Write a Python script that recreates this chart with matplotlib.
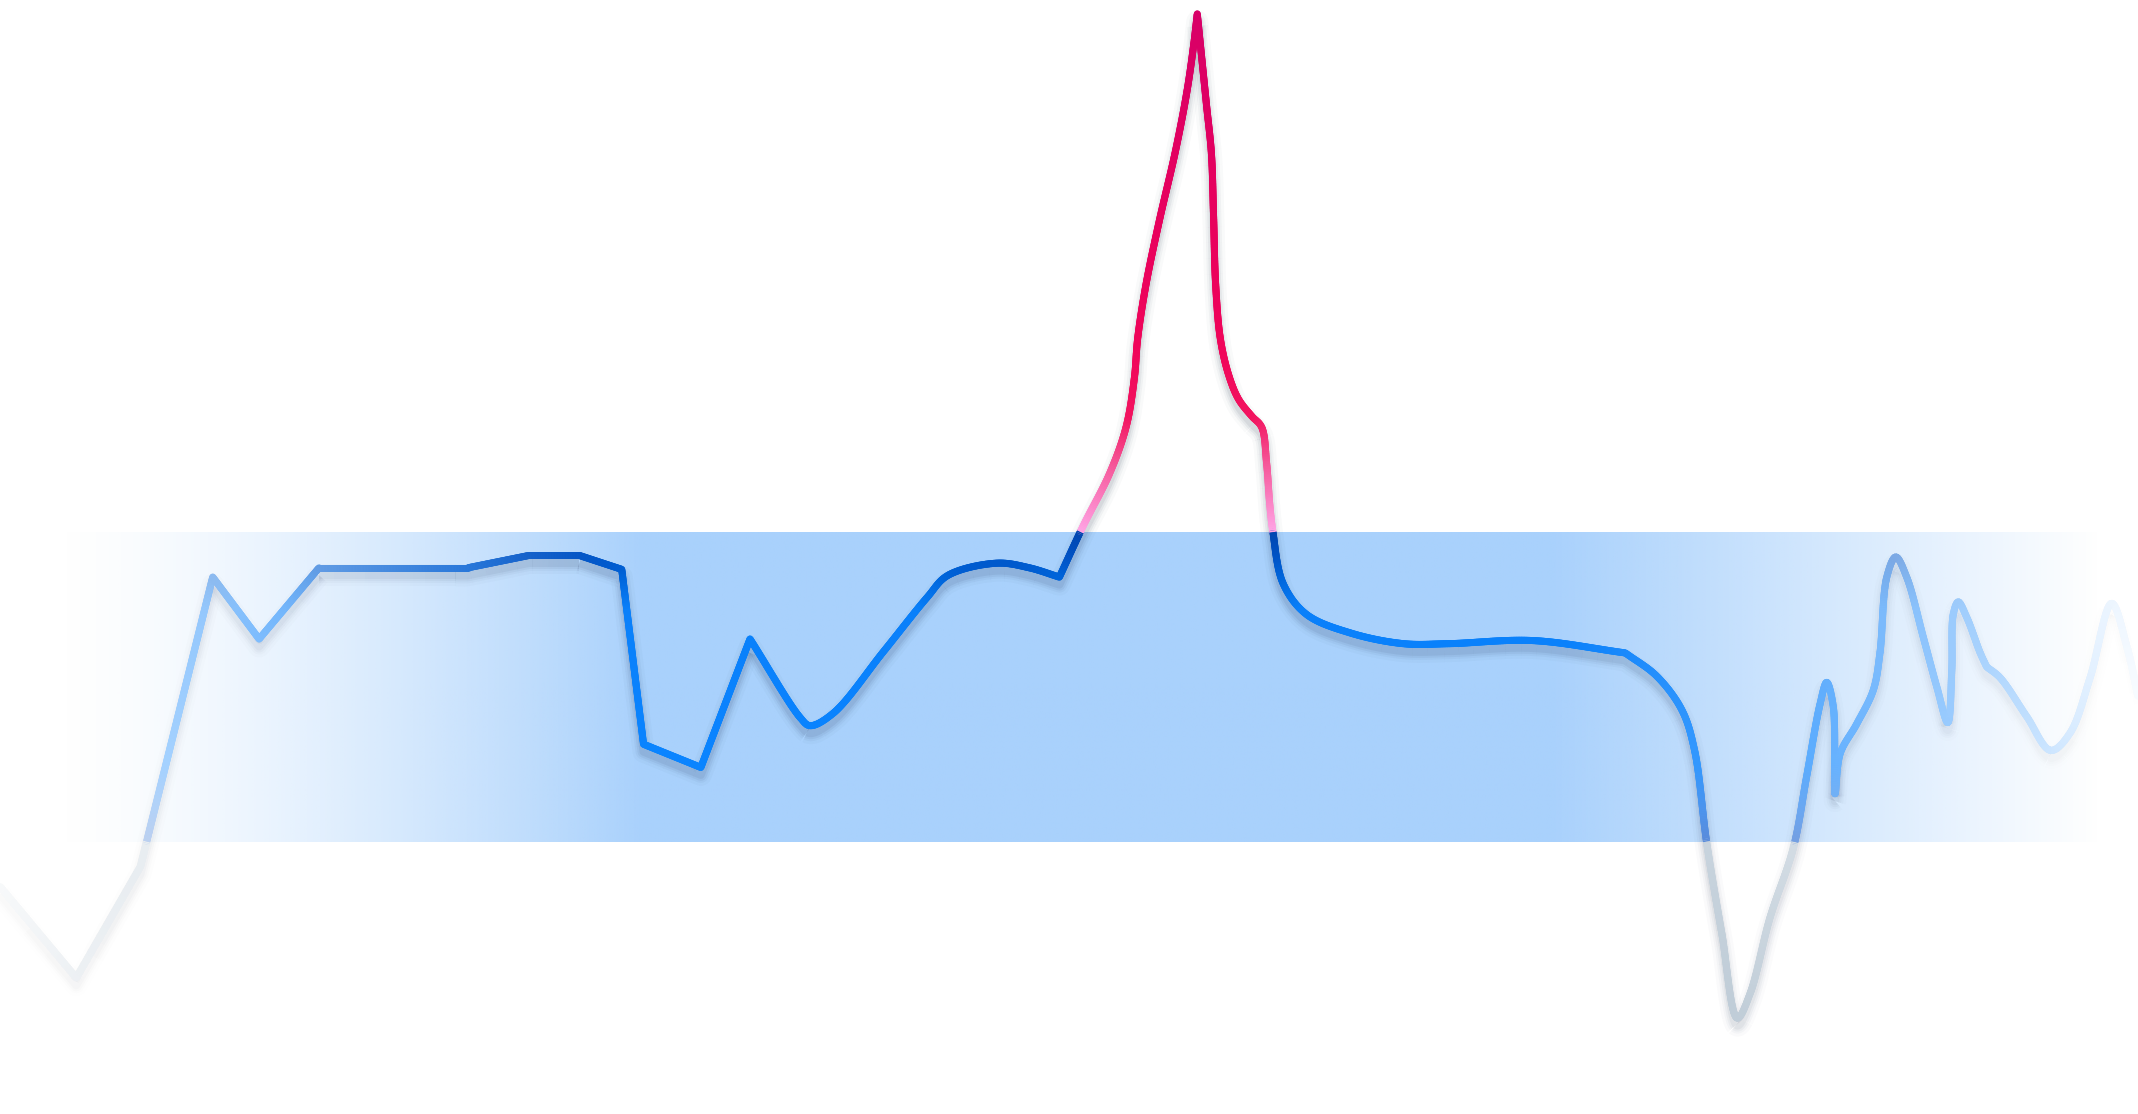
import numpy as np
import matplotlib
matplotlib.use("Agg")
import matplotlib.pyplot as plt
import matplotlib.transforms as mtransforms
from matplotlib.collections import LineCollection
from matplotlib.colors import to_rgb

# readings (time 0-100, value)
t = [0.0, 3.57, 6.57, 9.95, 12.12, 14.92, 21.88, 24.74, 27.10, 29.08,
     30.10, 32.78, 35.08, 37.44, 37.88, 38.97, 41.33, 43.37, 44.32, 46.62,
     48.15, 49.55, 50.66, 51.90, 52.67, 53.06, 53.21, 53.60, 54.22, 54.99,
     55.53, 55.84, 56.00, 56.22, 56.44, 56.66, 56.76, 56.86, 57.08, 57.46,
     57.93, 58.55, 59.01, 59.24, 59.39, 59.54, 60.01, 61.10, 63.14, 65.63,
     67.79, 71.68, 76.02, 77.49, 78.67, 79.26, 79.83, 80.53, 81.26,
     81.86, 82.79, 83.88, 84.50, 85.13, 85.44, 85.75, 85.83, 86.07, 86.84,
     87.62, 87.93, 88.25, 88.67, 89.18, 89.96, 90.59, 91.10, 91.29, 91.36,
     91.59, 91.99, 92.62, 92.92, 93.55, 94.79, 95.92, 96.81, 97.76, 98.77,
     99.48, 100.0]
v = [37.1, 31.2, 38.4, 57.1, 53.1, 57.7, 57.7, 58.5, 58.5, 57.6,
     46.3, 44.8, 53.1, 48.0, 47.5, 48.3, 52.3, 55.8, 57.2, 58.0,
     57.7, 57.1, 60.4, 63.8, 66.8, 70.0, 72.5, 76.0, 80.1, 84.7,
     88.6, 91.6, 93.5, 90.5, 87.5, 84.5, 80.5, 76.0, 72.5, 70.2,
     68.6, 67.5, 66.8, 64.5, 61.8, 60.0, 56.7, 54.7, 53.5, 52.8,
     52.8, 53.0, 52.2, 50.7, 48.5, 45.9, 39.9, 34.1, 28.6,
     30.2, 35.1, 39.6, 44.2, 48.9, 50.3, 48.7, 43.1, 45.7, 47.6,
     49.8, 52.2, 57.1, 58.4, 57.1, 53.2, 50.0, 47.7, 51.1, 54.7,
     55.5, 54.5, 52.2, 51.3, 50.6, 48.1, 45.9, 47.0, 50.6, 55.4,
     52.6, 49.4]
# points where the line has a hard corner (the rest is smoothed)
corners = [0, 1, 2, 3, 4, 5, 6, 7, 8, 9, 10, 11, 12, 21, 32, 52, 82, 90]

band_low, band_high = 40, 60
band_color = "#a9d1fc"

pink_at = [60, 62, 64.5, 67.5, 72, 82, 95]
pink_col = ["#ffa6e6", "#fb82c4", "#f55597", "#f2135f", "#f0055a", "#e6005e", "#d60069"]
blue_at = [40, 42, 45, 55, 57, 58.5, 60]
blue_col = ["#3a72d0", "#2a7ee8", "#0a84ff", "#0a80fa", "#0066dc", "#0052c4", "#0046b0"]
grey_at = [20, 29, 40]
grey_col = ["#a4b6c6", "#a7b9c8", "#b7c6d3"]


def ramp(vals, at, cols):
    rgb = np.array([to_rgb(c) for c in cols])
    return np.column_stack([np.interp(vals, at, rgb[:, k]) for k in range(3)])


def line_rgb(vals):
    out = ramp(vals, blue_at, blue_col)
    up = vals > band_high
    lo = vals < band_low
    out[up] = ramp(vals[up], pink_at, pink_col)
    out[lo] = ramp(vals[lo], grey_at, grey_col)
    return out


def line_fade(x):
    left = np.clip((x + 3.2) / 31.5, 0, 1)
    right = np.clip(1 - 0.95 * (x - 73.3) / 26.2, 0.03, 1)
    return np.minimum(left, right)


def band_alpha(x):
    left = np.clip((x - 2.55) / 27.4, 0, 1) ** 1.4
    right = np.clip((98.2 - x) / 25.5, 0, 1)
    return np.minimum(left, right)


def catmull_rom(p):
    # centripetal catmull-rom through the points of one piece
    if len(p) == 2:
        n = max(2, int(np.hypot(*(p[1] - p[0])) / 1.5))
        s = np.linspace(0, 1, n)[:, None]
        return p[0] + s * (p[1] - p[0])
    ext = np.vstack([2 * p[0] - p[1], p, 2 * p[-1] - p[-2]])
    out = []
    for i in range(1, len(ext) - 2):
        P0, P1, P2, P3 = ext[i - 1], ext[i], ext[i + 1], ext[i + 2]
        t0 = 0.0
        t1 = t0 + np.hypot(*(P1 - P0)) ** 0.5 + 1e-6
        t2 = t1 + np.hypot(*(P2 - P1)) ** 0.5 + 1e-6
        t3 = t2 + np.hypot(*(P3 - P2)) ** 0.5 + 1e-6
        n = max(4, int(np.hypot(*(P2 - P1)) / 1.5))
        tt = np.linspace(t1, t2, n)[:, None]
        A1 = (t1 - tt) / (t1 - t0) * P0 + (tt - t0) / (t1 - t0) * P1
        A2 = (t2 - tt) / (t2 - t1) * P1 + (tt - t1) / (t2 - t1) * P2
        A3 = (t3 - tt) / (t3 - t2) * P2 + (tt - t2) / (t3 - t2) * P3
        B1 = (t2 - tt) / (t2 - t0) * A1 + (tt - t0) / (t2 - t0) * A2
        B2 = (t3 - tt) / (t3 - t1) * A2 + (tt - t1) / (t3 - t1) * A3
        C = (t2 - tt) / (t2 - t1) * B1 + (tt - t1) / (t2 - t1) * B2
        out.append(C if not out else C[1:])
    return np.vstack(out)


fig = plt.figure(figsize=(21.38, 11.14), dpi=100, facecolor="white")
ax = fig.add_axes([0, 0, 1, 1])
ax.set_xlim(0, 100)
ax.set_ylim(22.4, 94.4)
ax.axis("off")

# band with faded ends
xs = np.linspace(0, 100, 1200)
band = np.zeros((1, len(xs), 4))
band[0, :, :3] = to_rgb(band_color)
band[0, :, 3] = band_alpha(xs)
ax.imshow(band, extent=[0, 100, band_low, band_high], aspect="auto",
          interpolation="bilinear", zorder=1)

# smooth the line in pixel space, piece by piece between corners
pts_px = ax.transData.transform(np.column_stack([t, v]))
curve = []
for a, b in zip(corners[:-1], corners[1:]):
    seg = catmull_rom(pts_px[a:b + 1])
    curve.append(seg if not curve else seg[1:])
curve = ax.transData.inverted().transform(np.vstack(curve))
cx, cy = curve[:, 0], curve[:, 1]

# soft drop shadow
shadow_tr = ax.transData + mtransforms.ScaledTranslation(0, -0.075, fig.dpi_scale_trans)
step = 10
chunks = [curve[i:i + step + 1] for i in range(0, len(curve) - 1, step)]
chunk_fade = np.array([line_fade(c[:, 0].mean()) for c in chunks])
for width, alpha in [(22, 0.025), (16, 0.04), (12, 0.055), (8, 0.07)]:
    cols = [(0.12, 0.18, 0.30, alpha * f) for f in chunk_fade]
    ax.add_collection(LineCollection(chunks, colors=cols, linewidths=width * 0.72,
                                     capstyle="butt", joinstyle="round",
                                     transform=shadow_tr, zorder=2))

# main line: colour by value, faded towards both ends
mx = (cx[:-1] + cx[1:]) / 2
my = (cy[:-1] + cy[1:]) / 2
base = line_rgb(my)
fade = line_fade(mx)[:, None]
in_band = (my >= band_low) & (my <= band_high)
bg = np.ones((len(mx), 3))
ba = band_alpha(mx)[:, None]
bg[in_band] = (1 - ba[in_band]) + ba[in_band] * np.array(to_rgb(band_color))
colors = fade * base + (1 - fade) * bg
segs = np.stack([curve[:-1], curve[1:]], axis=1)
ax.add_collection(LineCollection(segs, colors=colors, linewidths=5.0,
                                 capstyle="round", zorder=3))
ax.add_collection(LineCollection(segs, colors=colors, linewidths=5.0,
                                 capstyle="butt", zorder=4))

fig.savefig("out.png", dpi=100, facecolor="white")
